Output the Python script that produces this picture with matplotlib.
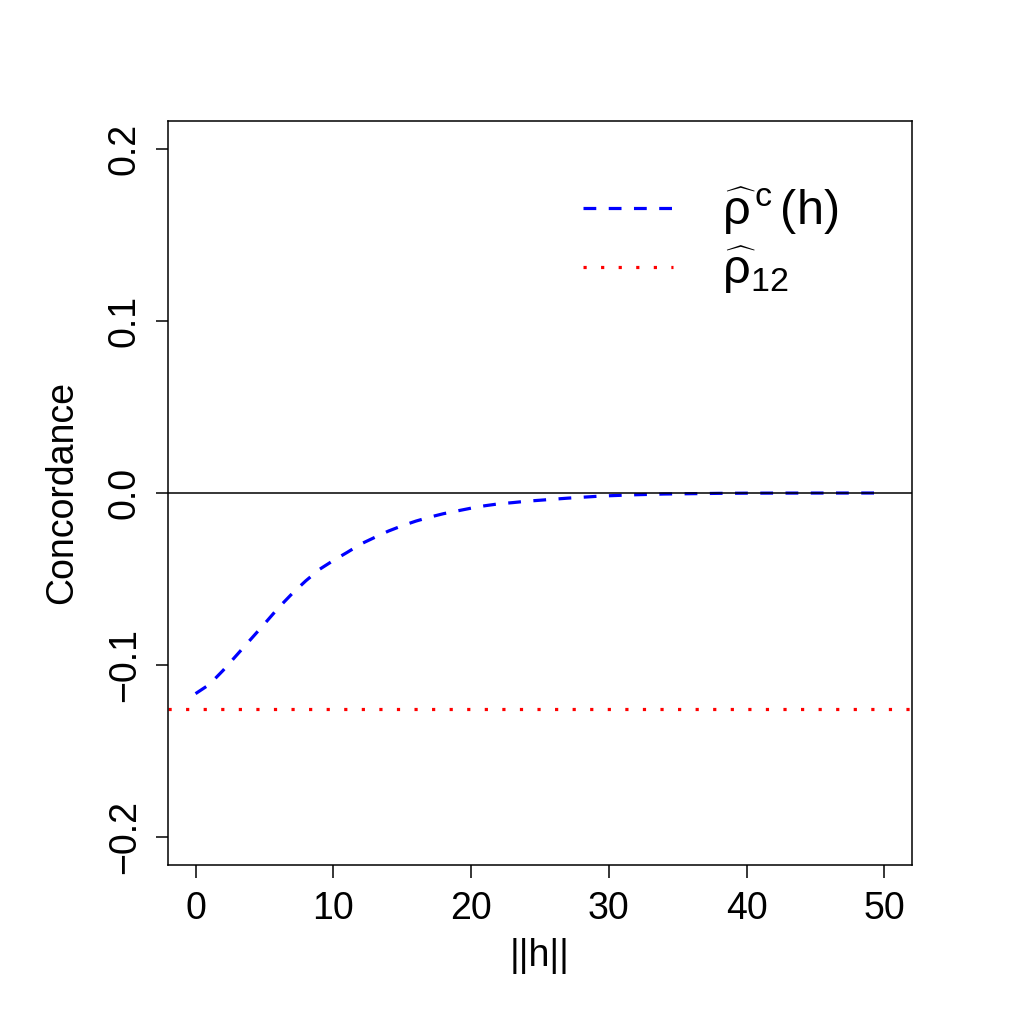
import matplotlib
matplotlib.use("Agg")
import matplotlib.pyplot as plt

plt.rcParams['font.family'] = ['Liberation Sans', 'DejaVu Sans']
plt.rcParams['mathtext.fontset'] = 'custom'
plt.rcParams['mathtext.rm'] = 'Liberation Sans'
plt.rcParams['mathtext.it'] = 'Liberation Sans'
plt.rcParams['mathtext.bf'] = 'Liberation Sans:bold'

# Data
h = list(range(0, 51))
rho_c = [-0.1165, -0.1112, -0.1030, -0.0940, -0.0850, -0.0760, -0.0668, -0.0585,
         -0.0510, -0.0443, -0.0392, -0.0345, -0.0296, -0.0258, -0.0221, -0.0190,
         -0.0163, -0.0140, -0.0120, -0.0104, -0.0088, -0.0074, -0.0063, -0.0056,
         -0.0048, -0.0042, -0.0036, -0.0030, -0.0025, -0.0020, -0.0016, -0.0013,
         -0.0010, -0.0008, -0.0006, -0.0005, -0.0004, -0.0003, -0.0002, -0.00015,
         -0.0001, -0.00008, -0.00006, -0.00005, -0.00004, -0.00003, -0.00002,
         -0.00002, -0.00001, -0.00001, 0.0]
rho12 = -0.1255
xticks = [0, 10, 20, 30, 40, 50]
yticks = [-0.2, -0.1, 0.0, 0.1, 0.2]
ytick_labels = ["\u22120.2", "\u22120.1", "0.0", "0.1", "0.2"]

fig = plt.figure(figsize=(10.19, 10.19), dpi=100)
ax = fig.add_axes([168/1019, 1 - 865/1019, (912-168)/1019, (865-121)/1019])

fs = 27
ax.plot(h, rho_c, color='blue', lw=2.3, dashes=(4.0, 3.9), dash_capstyle='butt',
        label=r'$\widehat{\rho}^{\,c}\,(h)$')
ax.axhline(rho12, color='red', lw=2.3, dashes=(1.0, 4.5), dash_capstyle='butt',
           label=r'$\widehat{\rho}_{12}$')
ax.axhline(0, color='black', lw=1.1)

ax.set_xlim(-2, 52)
ax.set_ylim(-0.216, 0.216)
ax.set_xticks(xticks)
ax.set_xticklabels([str(v) for v in xticks])
ax.set_yticks(yticks)
ax.set_yticklabels(ytick_labels, rotation=90, va='center')
ax.tick_params(axis='both', labelsize=fs, length=9, width=1.1, pad=10)
ax.tick_params(axis='y', pad=9)
for s in ax.spines.values():
    s.set_linewidth(1.1)

ax.set_xlabel('||h||', fontsize=fs, labelpad=8)
ax.set_ylabel('Concordance', fontsize=fs, labelpad=19)

leg = ax.legend(loc='upper left', frameon=False, fontsize=35,
                handlelength=1.85, handletextpad=1.0, labelspacing=0.15,
                borderpad=0, borderaxespad=0,
                bbox_to_anchor=(0.558, 0.913))

fig.savefig('out.png', dpi=100)
